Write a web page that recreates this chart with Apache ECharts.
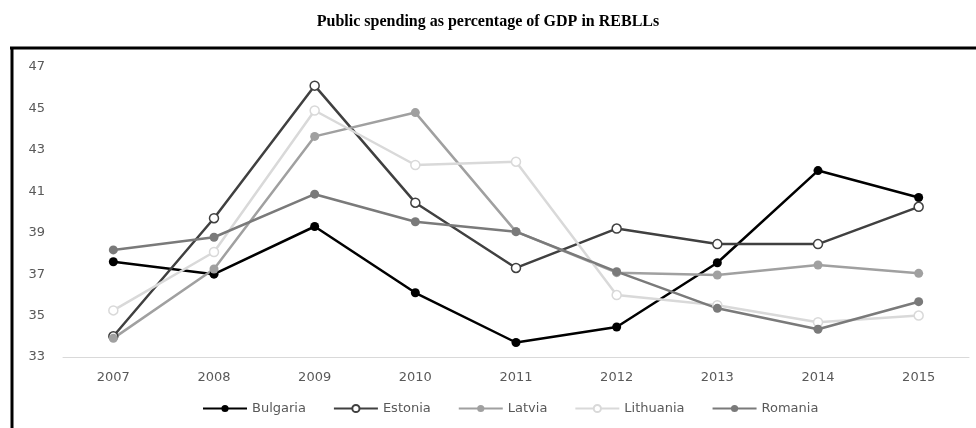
<!DOCTYPE html>
<html><head><meta charset="utf-8">
<script src="https://cdn.jsdelivr.net/npm/echarts@6/dist/echarts.min.js"></script>
<style>html,body{margin:0;padding:0;background:#fff}#c{width:976px;height:428px}</style>
</head><body><div id="c"></div>
<script>
const years = ['2007','2008','2009','2010','2011','2012','2013','2014','2015'];
const bulgaria  = [37.6, 37.0, 39.3, 36.1, 33.7, 34.45, 37.55, 42.0, 40.7];
const estonia   = [34.0, 39.7, 46.1, 40.45, 37.3, 39.2, 38.45, 38.45, 40.25];
const latvia    = [33.9, 37.25, 43.65, 44.8, 39.05, 37.07, 36.96, 37.44, 37.04];
const lithuania = [35.25, 38.07, 44.9, 42.27, 42.43, 35.99, 35.5, 34.68, 35.0];
const romania   = [38.17, 38.78, 40.86, 39.53, 39.05, 37.12, 35.35, 34.34, 35.67];
const yTicks = {min: 33, max: 47, interval: 2};

function mk(name, data, color, hollow) {
  return {
    name, type: 'line', data,
    symbol: 'circle', symbolSize: 9,
    lineStyle: {color, width: 2.5},
    itemStyle: {color: hollow ? '#fff' : color, borderColor: color, borderWidth: hollow ? 1.5 : 0},
    emphasis: {disabled: true}
  };
}
const chart = echarts.init(document.getElementById('c'));
chart.setOption({
  animation: false,
  title: {text: 'Public spending as percentage of GDP in REBLLs', left: 'center', top: 9,
    textStyle: {fontFamily: 'Liberation Serif', fontWeight: 'bold', fontSize: 16, color: '#000'}},
  grid: {left: 63, right: 7, top: 67, bottom: 71},
  legend: {bottom: 8, left: 197, itemWidth: 44, itemHeight: 9, itemGap: 27,
    textStyle: {fontFamily: 'DejaVu Sans', fontSize: 13, color: '#595959'}},
  xAxis: {type: 'category', data: years, boundaryGap: true,
    axisLine: {lineStyle: {color: '#d9d9d9'}}, axisTick: {show: false},
    axisLabel: {fontFamily: 'DejaVu Sans', fontSize: 13, color: '#595959', margin: 14}},
  yAxis: {type: 'value', min: yTicks.min, max: yTicks.max, interval: yTicks.interval,
    splitLine: {show: false}, axisLine: {show: false}, axisTick: {show: false},
    axisLabel: {fontFamily: 'DejaVu Sans', fontSize: 13, color: '#595959', margin: 18}},
  graphic: [
    {type: 'line', shape: {x1: 10, y1: 48, x2: 976, y2: 48}, style: {stroke: '#000', lineWidth: 3}},
    {type: 'line', shape: {x1: 12, y1: 47, x2: 12, y2: 428}, style: {stroke: '#000', lineWidth: 3}}
  ],
  series: [
    mk('Bulgaria', bulgaria, '#000000', false),
    mk('Estonia', estonia, '#404040', true),
    mk('Latvia', latvia, '#a0a0a0', false),
    mk('Lithuania', lithuania, '#d9d9d9', true),
    mk('Romania', romania, '#7a7a7a', false)
  ]
});
</script></body></html>
